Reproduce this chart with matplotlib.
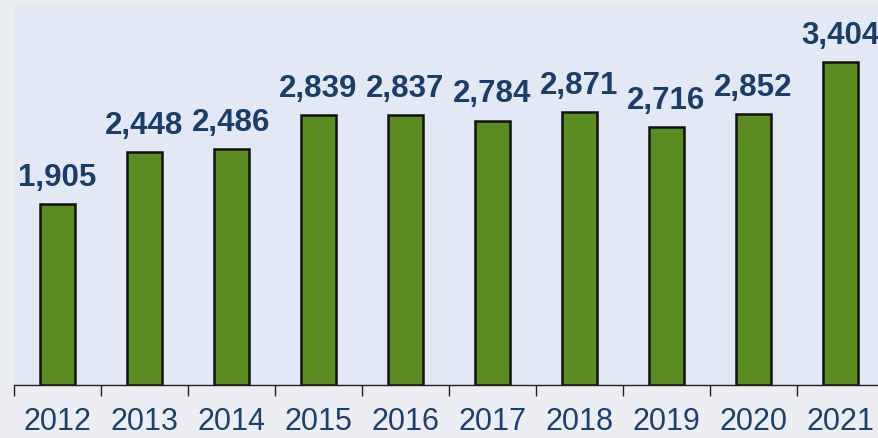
import matplotlib
matplotlib.use("Agg")
import matplotlib.pyplot as plt

years = ["2012", "2013", "2014", "2015", "2016", "2017", "2018", "2019", "2020", "2021"]
values = [1905, 2448, 2486, 2839, 2837, 2784, 2871, 2716, 2852, 3404]

plt.rcParams["font.family"] = ["Liberation Sans", "DejaVu Sans"]

fig = plt.figure(figsize=(8.79, 4.38), dpi=100, facecolor="#ECEEF4")
ax = fig.add_axes([14 / 879, 53 / 438, 870 / 879, 380 / 438])
ax.set_facecolor("#E2E8F4")

x = list(range(len(years)))
bars = ax.bar(x, values, width=0.41, color="#5B8C22", edgecolor="#111111", linewidth=1.8, zorder=3)

for xi, v in zip(x, values):
    ax.annotate(f"{v:,}", (xi, v), xytext=(0, 8), textcoords="offset points",
                ha="center", va="bottom", fontsize=22.5, fontweight="bold",
                color="#1A3D6C", zorder=4)

ax.set_xlim(-0.5, len(years) - 0.5)
ax.set_ylim(0, 4000)

ax.set_xticks(x)
ax.set_xticklabels(years, fontsize=22, color="#1C4070")
ax.tick_params(axis="x", which="major", length=0, pad=15.5)
ax.set_xticks([i - 0.5 for i in range(len(years) + 1)], minor=True)
ax.tick_params(axis="x", which="minor", length=8, width=1, color="#222222", direction="out")
ax.set_yticks([])

for side in ("left", "right", "top"):
    ax.spines[side].set_visible(False)
ax.spines["bottom"].set_color("#222222")
ax.spines["bottom"].set_linewidth(1)

fig.savefig("out.png", dpi=100, facecolor=fig.get_facecolor())
